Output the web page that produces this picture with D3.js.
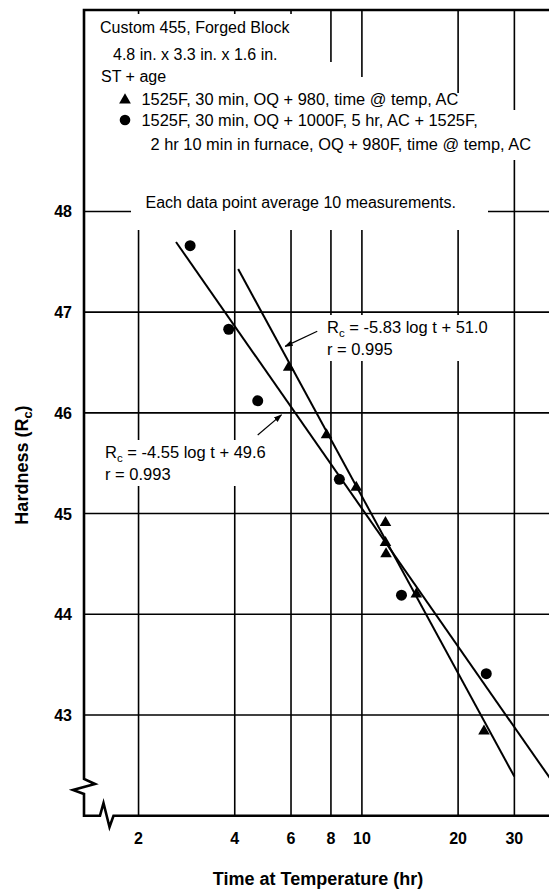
<!DOCTYPE html>
<html>
<head>
<meta charset="utf-8">
<script src="https://cdn.jsdelivr.net/npm/d3@7"></script>
<style>
  body { margin: 0; background: #fff; }
  svg { display: block; }
</style>
</head>
<body>
<svg id="chart" width="549" height="892"></svg>
<script>
// Tick values
const xTicks = [2, 4, 6, 8, 10, 20, 30];
const yTicks = [43, 44, 45, 46, 47, 48];

// Series: 1525F, 30 min, OQ + 980, time @ temp, AC
const triangleT = [5.9, 7.75, 9.6, 11.85, 11.85, 11.9, 14.8, 24.1];
const triangleH = [46.45, 45.78, 45.26, 44.91, 44.71, 44.6, 44.2, 42.84];

// Series: 1525F, 30 min, OQ + 1000F, 5 hr, AC + 1525F, 2 hr 10 min in furnace, OQ + 980F
const circleT = [2.9, 3.83, 4.72, 8.5, 13.3, 24.5];
const circleH = [47.66, 46.83, 46.12, 45.34, 44.19, 43.41];

// Regression lines Rc = a log t + b  [triangles, circles]
const fitSlope = [-5.83, -4.55];
const fitIntercept = [51.0, 49.6];
const fitR = [0.995, 0.993];
const fitFrom = [4.1, 2.62];
const fitTo = [30, 45];

const titleLines = ["Custom 455, Forged Block", "4.8 in. x 3.3 in. x 1.6 in.", "ST + age"];
const legendLines = ["1525F, 30 min, OQ + 980, time @ temp, AC",
                     "1525F, 30 min, OQ + 1000F, 5 hr, AC + 1525F,",
                     "2 hr 10 min in furnace, OQ + 980F, time @ temp, AC"];
const noteText = "Each data point average 10 measurements.";

const FONT = "'Liberation Sans', Arial, Helvetica, sans-serif";

const svg = d3.select("#chart");
const pLeft = 84, pRight = 549, pTop = 10, pBottom = 815.7;

const x = d3.scaleLog().domain([1.35, 38.5]).range([pLeft, pRight]);
const y = d3.scaleLinear().domain([42, 50]).range([pBottom, pTop]);

const defs = svg.append("defs");
defs.append("clipPath").attr("id", "plotClip")
  .append("rect").attr("x", pLeft).attr("y", pTop)
  .attr("width", pRight - pLeft).attr("height", pBottom - pTop);

// Grid
const grid = svg.append("g").attr("stroke", "#000").attr("stroke-width", 1.6);
grid.selectAll("line.v").data(xTicks).join("line")
  .attr("class", "v")
  .attr("x1", d => x(d)).attr("x2", d => x(d))
  .attr("y1", pTop).attr("y2", pBottom);
grid.selectAll("line.h").data(yTicks).join("line")
  .attr("class", "h")
  .attr("x1", pLeft).attr("x2", pRight)
  .attr("y1", d => y(d)).attr("y2", d => y(d));

// White panel behind the header block
const panel = [[86, 14], [325, 14], [325, 62], [345, 62], [345, 77], [400, 77], [400, 93],
               [480, 93], [480, 110], [536, 110], [536, 160], [488, 160], [488, 230],
               [131, 230], [131, 150], [86, 150]];
svg.append("polygon").attr("points", panel.map(p => p.join(",")).join(" "))
  .attr("fill", "#fff");

// Header text
const header = svg.append("g").attr("font-family", FONT).attr("font-size", 16).attr("fill", "#000");
const titleX = [100, 113, 101];
const titleY = [32.5, 59.5, 82];
titleLines.forEach((s, i) => header.append("text").attr("x", titleX[i]).attr("y", titleY[i]).text(s));
const legendX = [141.5, 141.5, 150.5];
const legendY = [105, 125.5, 149.5];
legendLines.forEach((s, i) => header.append("text").attr("x", legendX[i]).attr("y", legendY[i])
  .attr("font-size", 16.4).text(s));
header.append("path").attr("d", d3.symbol(d3.symbolTriangle, 60)())
  .attr("transform", "translate(125,100)");
header.append("circle").attr("cx", 125).attr("cy", 120).attr("r", 5.3);
header.append("text").attr("x", 145.5).attr("y", 208).text(noteText);

// Regression lines
const lines = svg.append("g").attr("clip-path", "url(#plotClip)")
  .attr("stroke", "#000").attr("stroke-width", 2).attr("fill", "none");
fitSlope.forEach((a, i) => {
  const f = t => a * Math.log10(t) + fitIntercept[i];
  lines.append("line")
    .attr("x1", x(fitFrom[i])).attr("y1", y(f(fitFrom[i])))
    .attr("x2", x(fitTo[i])).attr("y2", y(f(fitTo[i])));
});

// Equation labels
function equation(g, px, py, i) {
  const box = g.append("rect").attr("fill", "#fff");
  const t1 = g.append("text").attr("x", px).attr("y", py);
  t1.append("tspan").text("R");
  t1.append("tspan").attr("font-size", 11.5).attr("dy", 4).text("c");
  t1.append("tspan").attr("dy", -4)
    .text(` = ${fitSlope[i].toFixed(2)} log t + ${fitIntercept[i].toFixed(1)}`);
  const t2 = g.append("text").attr("x", px).attr("y", py + 22).text(`r = ${fitR[i].toFixed(3)}`);
  const b1 = t1.node().getBBox(), b2 = t2.node().getBBox();
  const x0 = Math.min(b1.x, b2.x) - 4, y0 = b1.y - 3;
  box.attr("x", x0).attr("y", y0)
    .attr("width", Math.max(b1.x + b1.width, b2.x + b2.width) - x0 + 4)
    .attr("height", b2.y + b2.height - y0 + 3);
}
const notes = svg.append("g").attr("font-family", FONT).attr("font-size", 16.5).attr("fill", "#000");
equation(notes, 327, 333, 0);
equation(notes, 105, 458, 1);

// Arrows
defs.append("marker").attr("id", "head")
  .attr("viewBox", "0 0 10 10").attr("refX", 9).attr("refY", 5)
  .attr("markerWidth", 7).attr("markerHeight", 7).attr("orient", "auto")
  .append("path").attr("d", "M0,1.5L10,5L0,8.5Z").attr("fill", "#000");
const arrowFrom = [[7.25, 46.81], [4.72, 45.78]];
const arrowTo = [[5.75, 46.66], [5.6, 45.98]];
arrowFrom.forEach((p, i) => {
  svg.append("line")
    .attr("x1", x(p[0])).attr("y1", y(p[1]))
    .attr("x2", x(arrowTo[i][0])).attr("y2", y(arrowTo[i][1]))
    .attr("stroke", "#000").attr("stroke-width", 1.2)
    .attr("marker-end", "url(#head)");
});

// Markers
const marks = svg.append("g").attr("fill", "#000");
marks.selectAll("circle").data(circleT).join("circle")
  .attr("cx", d => x(d)).attr("cy", (d, i) => y(circleH[i])).attr("r", 5.5);
marks.selectAll("path").data(triangleT).join("path")
  .attr("d", d3.symbol(d3.symbolTriangle, 58)())
  .attr("transform", (d, i) => `translate(${x(d)},${y(triangleH[i])})`);

// Frame with axis breaks
const frame = d3.path();
frame.moveTo(pRight, pTop);
frame.lineTo(pLeft, pTop);
frame.lineTo(pLeft, 779);
frame.lineTo(95, 784);
frame.lineTo(73, 790);
frame.lineTo(pLeft, 794);
frame.lineTo(pLeft, pBottom);
frame.lineTo(100, pBottom);
frame.lineTo(103.5, 803);
frame.lineTo(109.5, 827);
frame.lineTo(113.5, pBottom);
frame.lineTo(pRight, pBottom);
svg.append("path").attr("d", frame.toString())
  .attr("fill", "none").attr("stroke", "#000").attr("stroke-width", 2.6)
  .attr("stroke-linejoin", "miter");

// Tick labels
const ticks = svg.append("g").attr("font-family", FONT).attr("font-size", 16)
  .attr("font-weight", "bold").attr("fill", "#000");
ticks.selectAll("text.x").data(xTicks).join("text").attr("class", "x")
  .attr("x", d => x(d)).attr("y", 843.5).attr("text-anchor", "middle").text(d => d);
ticks.selectAll("text.y").data(yTicks).join("text").attr("class", "y")
  .attr("x", 72).attr("y", d => y(d) + 6).attr("text-anchor", "end").text(d => d);

// Axis titles
const titles = svg.append("g").attr("font-family", FONT).attr("font-size", 18)
  .attr("font-weight", "bold").attr("fill", "#000");
titles.append("text").attr("x", 318).attr("y", 885).attr("text-anchor", "middle")
  .text("Time at Temperature (hr)");
const yt = titles.append("text").attr("transform", "translate(28,465) rotate(-90)")
  .attr("text-anchor", "middle");
yt.append("tspan").text("Hardness (R");
yt.append("tspan").attr("font-size", 13).attr("dy", 4).text("c");
yt.append("tspan").attr("dy", -4).text(")");
</script>
</body>
</html>
